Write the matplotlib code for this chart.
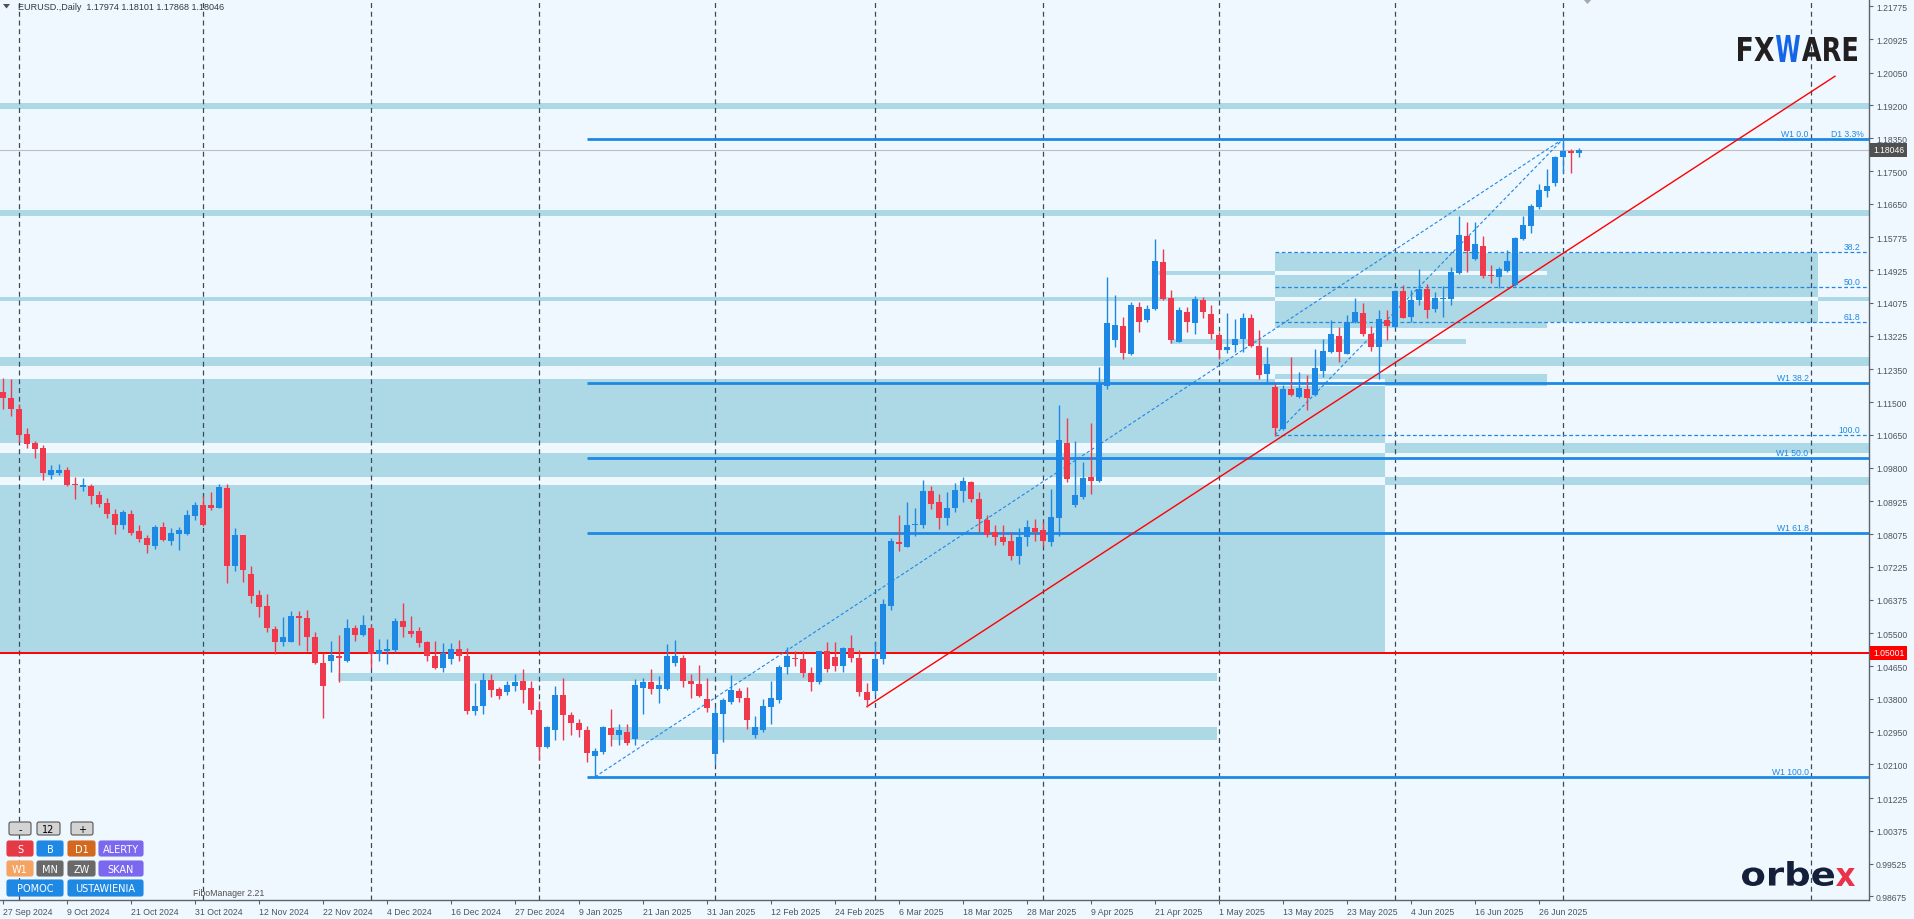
import matplotlib
matplotlib.use("Agg")
import matplotlib.pyplot as plt
from matplotlib.patches import Rectangle, FancyBboxPatch, PathPatch, Polygon
from matplotlib.textpath import TextPath
from matplotlib.font_manager import FontProperties
from matplotlib.transforms import Affine2D

plt.rcParams["font.family"] = ["Liberation Sans", "DejaVu Sans"]

BG = "#F0F8FF"
ZONE = "#ADD8E6"
BULL = "#1E88E5"
BEAR = "#EE3A4C"
FIB = "#1E88E5"
TXT = "#4A5560"

# --- daily EURUSD bars, index 0 = 27 Sep 2024 ---
opens = [
    1.1177, 1.1160, 1.1132, 1.1068, 1.1044, 1.1031, 1.0961, 1.0966, 1.0974, 1.0937,
    1.0931, 1.0933, 1.0909, 1.0888, 1.0860, 1.0830, 1.0860, 1.0816, 1.0798, 1.0778,
    1.0826, 1.0791, 1.0809, 1.0808, 1.0854, 1.0883, 1.0882, 1.0876, 1.0927, 1.0726,
    1.0805, 1.0704, 1.0650, 1.0620, 1.0561, 1.0527, 1.0528, 1.0594, 1.0590, 1.0541,
    1.0473, 1.0477, 1.0490, 1.0477, 1.0564, 1.0547, 1.0563, 1.0496, 1.0505, 1.0508,
    1.0581, 1.0555, 1.0555, 1.0527, 1.0492, 1.0460, 1.0483, 1.0509, 1.0492, 1.0349,
    1.0362, 1.0429, 1.0406, 1.0399, 1.0414, 1.0426, 1.0407, 1.0351, 1.0256, 1.0300,
    1.0390, 1.0338, 1.0318, 1.0300, 1.0233, 1.0243, 1.0304, 1.0285, 1.0293, 1.0276,
    1.0408, 1.0425, 1.0406, 1.0406, 1.0473, 1.0485, 1.0427, 1.0418, 1.0380, 1.0237,
    1.0341, 1.0371, 1.0400, 1.0382, 1.0286, 1.0300, 1.0358, 1.0378, 1.0462, 1.0486,
    1.0483, 1.0446, 1.0423, 1.0503, 1.0488, 1.0465, 1.0512, 1.0486, 1.0397, 1.0400,
    1.0484, 1.0620, 1.0788, 1.0775, 1.0830, 1.0831, 1.0919, 1.0890, 1.0850, 1.0875,
    1.0920, 1.0942, 1.0900, 1.0844, 1.0814, 1.0801, 1.0790, 1.0752, 1.0799, 1.0823,
    1.0817, 1.0788, 1.0850, 1.1044, 1.0883, 1.0903, 1.0955, 1.0946, 1.1193, 1.1312,
    1.1349, 1.1275, 1.1398, 1.1362, 1.1392, 1.1513, 1.1420, 1.1307, 1.1383, 1.1356,
    1.1416, 1.1379, 1.1324, 1.1286, 1.1299, 1.1314, 1.1368, 1.1295, 1.1222, 1.1190,
    1.1081, 1.1184, 1.1164, 1.1184, 1.1169, 1.1231, 1.1280, 1.1322, 1.1276, 1.1359,
    1.1382, 1.1327, 1.1292, 1.1364, 1.1344, 1.1439, 1.1372, 1.1414, 1.1444, 1.1392,
    1.1418, 1.1418, 1.1485, 1.1581, 1.1522, 1.1556, 1.1480, 1.1474, 1.1490, 1.1453,
    1.1574, 1.1608, 1.1656, 1.1697, 1.1718, 1.1787, 1.1803, 1.17974,
]
highs = [
    1.1214, 1.1210, 1.1145, 1.1082, 1.1049, 1.1039, 1.0987, 1.0990, 1.0981, 1.0955,
    1.0953, 1.0938, 1.0920, 1.0901, 1.0873, 1.0870, 1.0870, 1.0830, 1.0805, 1.0830,
    1.0838, 1.0823, 1.0827, 1.0870, 1.0892, 1.0907, 1.0916, 1.0937, 1.0937, 1.0824,
    1.0806, 1.0726, 1.0663, 1.0652, 1.0570, 1.0592, 1.0607, 1.0607, 1.0610, 1.0553,
    1.0499, 1.0530, 1.0546, 1.0587, 1.0572, 1.0598, 1.0572, 1.0535, 1.0535, 1.0590,
    1.0629, 1.0594, 1.0566, 1.0531, 1.0529, 1.0524, 1.0524, 1.0533, 1.0511, 1.0421,
    1.0447, 1.0445, 1.0410, 1.0427, 1.0444, 1.0457, 1.0427, 1.0375, 1.0310, 1.0414,
    1.0433, 1.0345, 1.0328, 1.0310, 1.0252, 1.0310, 1.0354, 1.0315, 1.0315, 1.0432,
    1.0433, 1.0457, 1.0440, 1.0522, 1.0533, 1.0495, 1.0444, 1.0468, 1.0434, 1.0358,
    1.0381, 1.0442, 1.0407, 1.0412, 1.0335, 1.0380, 1.0427, 1.0469, 1.0515, 1.0505,
    1.0505, 1.0464, 1.0505, 1.0528, 1.0528, 1.0514, 1.0545, 1.0506, 1.0422, 1.0528,
    1.0638, 1.0797, 1.0856, 1.0890, 1.0875, 1.0948, 1.0932, 1.0912, 1.0916, 1.0940,
    1.0957, 1.0946, 1.0916, 1.0856, 1.0830, 1.0830, 1.0812, 1.0823, 1.0845, 1.0847,
    1.0838, 1.0925, 1.1143, 1.1110, 1.1049, 1.0994, 1.1096, 1.1241, 1.1476, 1.1427,
    1.1370, 1.1411, 1.1411, 1.1401, 1.1574, 1.1548, 1.1441, 1.1396, 1.1396, 1.1425,
    1.1422, 1.1401, 1.1331, 1.1382, 1.1366, 1.1382, 1.1379, 1.1337, 1.1292, 1.1200,
    1.1195, 1.1267, 1.1228, 1.1221, 1.1288, 1.1314, 1.1362, 1.1344, 1.1376, 1.1421,
    1.1408, 1.1349, 1.1388, 1.1388, 1.1440, 1.1454, 1.1440, 1.1496, 1.1457, 1.1435,
    1.1451, 1.1500, 1.1634, 1.1617, 1.1617, 1.1581, 1.1506, 1.1502, 1.1546, 1.1580,
    1.1634, 1.1664, 1.1715, 1.1754, 1.1790, 1.1830, 1.1808, 1.18101,
]
lows = [
    1.1132, 1.1113, 1.1046, 1.1031, 1.1005, 1.0949, 1.0951, 1.0960, 1.0933, 1.0899,
    1.0920, 1.0886, 1.0877, 1.0850, 1.0809, 1.0821, 1.0806, 1.0788, 1.0759, 1.0769,
    1.0791, 1.0780, 1.0767, 1.0805, 1.0843, 1.0828, 1.0870, 1.0875, 1.0681, 1.0711,
    1.0684, 1.0629, 1.0593, 1.0554, 1.0497, 1.0516, 1.0527, 1.0519, 1.0505, 1.0470,
    1.0330, 1.0449, 1.0423, 1.0475, 1.0531, 1.0544, 1.0459, 1.0479, 1.0471, 1.0502,
    1.0540, 1.0541, 1.0514, 1.0479, 1.0458, 1.0451, 1.0471, 1.0477, 1.0341, 1.0337,
    1.0341, 1.0384, 1.0380, 1.0390, 1.0401, 1.0369, 1.0341, 1.0222, 1.0253, 1.0272,
    1.0272, 1.0285, 1.0282, 1.0216, 1.0178, 1.0237, 1.0257, 1.0260, 1.0260, 1.0260,
    1.0341, 1.0393, 1.0369, 1.0404, 1.0466, 1.0412, 1.0381, 1.0384, 1.0345, 1.0210,
    1.0268, 1.0367, 1.0373, 1.0303, 1.0279, 1.0295, 1.0315, 1.0369, 1.0444, 1.0466,
    1.0438, 1.0401, 1.0418, 1.0450, 1.0453, 1.0450, 1.0476, 1.0388, 1.0360, 1.0390,
    1.0470, 1.0610, 1.0765, 1.0773, 1.0804, 1.0823, 1.0873, 1.0821, 1.0830, 1.0864,
    1.0892, 1.0892, 1.0812, 1.0799, 1.0779, 1.0779, 1.0740, 1.0730, 1.0778, 1.0791,
    1.0778, 1.0778, 1.0804, 1.0942, 1.0877, 1.0899, 1.0912, 1.0942, 1.1183, 1.1294,
    1.1262, 1.1273, 1.1331, 1.1357, 1.1390, 1.1414, 1.1303, 1.1305, 1.1333, 1.1327,
    1.1368, 1.1314, 1.1262, 1.1278, 1.1280, 1.1280, 1.1292, 1.1210, 1.1202, 1.1063,
    1.1079, 1.1165, 1.1162, 1.1130, 1.1167, 1.1216, 1.1277, 1.1255, 1.1274, 1.1356,
    1.1323, 1.1284, 1.1209, 1.1312, 1.1343, 1.1368, 1.1357, 1.1402, 1.1369, 1.1385,
    1.1372, 1.1403, 1.1483, 1.1489, 1.1520, 1.1473, 1.1459, 1.1446, 1.1488, 1.1452,
    1.1571, 1.1589, 1.1651, 1.1682, 1.1710, 1.1745, 1.1746, 1.17868,
]
closes = [
    1.1160, 1.1133, 1.1066, 1.1042, 1.1029, 1.0966, 1.0974, 1.0974, 1.0935, 1.0935,
    1.0935, 1.0907, 1.0887, 1.0861, 1.0830, 1.0866, 1.0810, 1.0795, 1.0780, 1.0826,
    1.0792, 1.0811, 1.0819, 1.0856, 1.0884, 1.0831, 1.0876, 1.0930, 1.0725, 1.0805,
    1.0715, 1.0648, 1.0619, 1.0563, 1.0528, 1.0540, 1.0596, 1.0590, 1.0541, 1.0472,
    1.0414, 1.0494, 1.0487, 1.0563, 1.0546, 1.0573, 1.0497, 1.0507, 1.0509, 1.0581,
    1.0567, 1.0549, 1.0525, 1.0490, 1.0460, 1.0498, 1.0509, 1.0490, 1.0349, 1.0362,
    1.0429, 1.0403, 1.0388, 1.0416, 1.0423, 1.0404, 1.0352, 1.0256, 1.0306, 1.0390,
    1.0338, 1.0317, 1.0298, 1.0240, 1.0246, 1.0306, 1.0286, 1.0299, 1.0265, 1.0416,
    1.0425, 1.0406, 1.0416, 1.0492, 1.0492, 1.0427, 1.0418, 1.0388, 1.0356, 1.0343,
    1.0377, 1.0403, 1.0382, 1.0326, 1.0306, 1.0361, 1.0382, 1.0464, 1.0492, 1.0483,
    1.0446, 1.0423, 1.0503, 1.0458, 1.0465, 1.0512, 1.0486, 1.0397, 1.0376, 1.0484,
    1.0626, 1.0791, 1.0782, 1.0830, 1.0834, 1.0919, 1.0886, 1.0850, 1.0875, 1.0922,
    1.0945, 1.0900, 1.0847, 1.0805, 1.0799, 1.0788, 1.0752, 1.0799, 1.0825, 1.0814,
    1.0791, 1.0851, 1.1052, 1.0951, 1.0908, 1.0953, 1.0946, 1.1200, 1.1356, 1.1350,
    1.1278, 1.1401, 1.1359, 1.1392, 1.1517, 1.1418, 1.1312, 1.1389, 1.1359, 1.1418,
    1.1383, 1.1327, 1.1286, 1.1294, 1.1314, 1.1368, 1.1297, 1.1221, 1.1249, 1.1084,
    1.1184, 1.1169, 1.1188, 1.1162, 1.1239, 1.1283, 1.1327, 1.1280, 1.1357, 1.1385,
    1.1327, 1.1292, 1.1366, 1.1347, 1.1438, 1.1369, 1.1416, 1.1444, 1.1390, 1.1421,
    1.1421, 1.1487, 1.1584, 1.1542, 1.1561, 1.1478, 1.1477, 1.1496, 1.1517, 1.1576,
    1.1610, 1.1658, 1.1701, 1.1712, 1.1787, 1.1803, 1.1797, 1.18046,
]

date_labels = [
    "27 Sep 2024", "9 Oct 2024", "21 Oct 2024", "31 Oct 2024", "12 Nov 2024",
    "22 Nov 2024", "4 Dec 2024", "16 Dec 2024", "27 Dec 2024", "9 Jan 2025",
    "21 Jan 2025", "31 Jan 2025", "12 Feb 2025", "24 Feb 2025", "6 Mar 2025",
    "18 Mar 2025", "28 Mar 2025", "9 Apr 2025", "21 Apr 2025", "1 May 2025",
    "13 May 2025", "23 May 2025", "4 Jun 2025", "16 Jun 2025", "26 Jun 2025",
]
date_bars = list(range(0, 193, 8))
price_ticks = [
    1.21775, 1.20925, 1.20050, 1.19200, 1.18350, 1.17500, 1.16650, 1.15775,
    1.14925, 1.14075, 1.13225, 1.12350, 1.11500, 1.10650, 1.09800, 1.08925,
    1.08075, 1.07225, 1.06375, 1.05500, 1.04650, 1.03800, 1.02950, 1.02100,
    1.01225, 1.00375, 0.99525, 0.98675,
]
month_bars = [2, 25, 46, 67, 89, 109, 130, 152, 174, 195, 226]

# zones: (bar from, bar to, price low, price high); overlaps are drawn XOR like MT4
zones = [
    (-5, 172.75, 1.0499, 1.1211),
    (-5, 240, 1.1911, 1.1927),
    (-5, 240, 1.1634, 1.1649),
    (-5, 240, 1.1413, 1.1423),
    (-5, 240, 1.1245, 1.1267),
    (-5, 240, 1.1018, 1.1044),
    (-5, 240, 1.0935, 1.0956),
    (41.9, 151.75, 1.0426, 1.0446),
    (76, 151.75, 1.0272, 1.0307),
    (144.25, 193, 1.1480, 1.1490),
    (159, 193, 1.1343, 1.1357),
    (145.9, 182.9, 1.1301, 1.1315),
    (159, 193, 1.1193, 1.1223),
    (159, 226.9, 1.1357, 1.1538),
]

w1_start = 73
w1_levels = [1.1833, 1.12006, 1.10053, 1.08099, 1.01775]
w1_names = ["W1 0.0", "W1 38.2", "W1 50.0", "W1 61.8", "W1 100.0"]
d1_start = 159
d1_levels = [1.15396, 1.1449, 1.13584, 1.1065]
d1_names = ["38.2", "50.0", "61.8", "100.0"]
fib_rays = [((74, 1.01775), (195, 1.1833)), ((159, 1.1065), (195, 1.1833))]
trend_red = ((108, 1.0360), (229, 1.1996))
level_red = 1.05001
last_price = 1.18046

W, H = 1914, 920
fig = plt.figure(figsize=(W / 100, H / 100), dpi=100, facecolor=BG)
ax = fig.add_axes([0, (H - 901) / H, 1869 / W, 901 / H], facecolor=BG)
ax.set_xlim(-0.375, 233.25)
ax.set_ylim(0.98580, 1.21964)

# XOR zone painting on the grid of all zone edges
xs = sorted({z[0] for z in zones} | {z[1] for z in zones})
ys = sorted({z[2] for z in zones} | {z[3] for z in zones})
for j in range(len(ys) - 1):
    cy = (ys[j] + ys[j + 1]) / 2
    run = None
    for i in range(len(xs) - 1):
        cx = (xs[i] + xs[i + 1]) / 2
        n = sum(z[0] <= cx <= z[1] and z[2] <= cy <= z[3] for z in zones)
        if n % 2 and run is None:
            run = xs[i]
        if (not n % 2 or i == len(xs) - 2) and run is not None:
            end = xs[i + 1] if n % 2 else xs[i]
            ax.add_patch(Rectangle((run, ys[j]), end - run, ys[j + 1] - ys[j],
                                   fc=ZONE, lw=0, antialiased=False, zorder=1))
            run = None

for b in month_bars:
    ax.axvline(b, color="#3A4A5A", lw=0.9, ls=(0, (4, 3)), zorder=2)

ax.axhline(last_price, color="#BDBDBD", lw=0.8, zorder=2)
ax.axhline(level_red, color="#FF0000", lw=1.4, zorder=3)

for lvl in w1_levels:
    ax.hlines(lvl, w1_start, 240, color=FIB, lw=2, zorder=3)
for lvl in d1_levels:
    ax.hlines(lvl, d1_start, 240, color=FIB, lw=0.9, ls=(0, (3, 2)), zorder=3)
for (x0, y0), (x1, y1) in fib_rays:
    ax.plot([x0, x1], [y0, y1], color=FIB, lw=0.8, ls=(0, (3, 2)), zorder=3)
ax.plot([trend_red[0][0], trend_red[1][0]], [trend_red[0][1], trend_red[1][1]],
        color="#FF0000", lw=1, zorder=3)

# candles
n = len(closes)
bars = list(range(n))
for i in bars:
    up = closes[i] >= opens[i]
    col = BULL if up else BEAR
    ax.vlines(i, lows[i], highs[i], color=col, lw=1, zorder=4)
    body = max(abs(closes[i] - opens[i]), 0.00025)
    ax.bar(i, body, bottom=min(opens[i], closes[i]), width=0.65, color=col,
           lw=0, zorder=5)

# fibo labels
lab = dict(fontsize=6.2, color=FIB, ha="right", va="bottom", zorder=6)
for lvl, name in zip(w1_levels, w1_names):
    ax.text(225.7, lvl + 0.0002, name, **lab)
for lvl, name in zip(d1_levels, d1_names):
    ax.text(232.2, lvl + 0.0002, name, **lab)
ax.text(232.6, w1_levels[0] + 0.0002, "D1 3.3%", **lab)

# axes styling
for s in ["top", "left"]:
    ax.spines[s].set_visible(False)
for s in ["right", "bottom"]:
    ax.spines[s].set_color("#5A6470")
    ax.spines[s].set_linewidth(1)
ax.yaxis.tick_right()
ax.set_yticks(price_ticks)
ax.set_yticklabels([f"{p:.5f}" for p in price_ticks])
ax.set_xticks(date_bars)
ax.set_xticklabels(date_labels)
ax.tick_params(axis="y", length=3, width=0.8, color="#5A6470", pad=2,
               labelsize=6.2, labelcolor=TXT)
ax.tick_params(axis="x", length=3, width=0.8, color="#5A6470", pad=2,
               labelsize=6.3, labelcolor=TXT)
for t in ax.get_xticklabels():
    t.set_ha("left")

box = dict(boxstyle="square,pad=0.3", ec="none")
ax.annotate(f"{last_price:.5f}", xy=(1, last_price), xycoords=("axes fraction", "data"),
            xytext=(4, 0), textcoords="offset pixels", ha="left", va="center",
            fontsize=6.2, color="white", bbox=dict(box, fc="#505050"),
            annotation_clip=False, zorder=10)
ax.annotate(f"{level_red:.5f}", xy=(1, level_red), xycoords=("axes fraction", "data"),
            xytext=(4, 0), textcoords="offset pixels", ha="left", va="center",
            fontsize=6.2, color="white", bbox=dict(box, fc="#FF0000"),
            annotation_clip=False, zorder=10)

# overlay in pixel coordinates for terminal widgets
ov = fig.add_axes([0, 0, 1, 1], facecolor="none")
ov.set_xlim(0, W)
ov.set_ylim(H, 0)
ov.axis("off")

ov.add_patch(Polygon([(3, 5), (10, 5), (6.5, 9.5)], color="#505050", lw=0))
ov.add_patch(Polygon([(1583, 0), (1592, 0), (1587.5, 5)], color="#A8A8A8", lw=0))
ov.text(18, 8, "EURUSD.,Daily  1.17974 1.18101 1.17868 1.18046", fontsize=6.5,
        color="#2F3A45", va="center", ha="left")
ov.text(193, 894, "FiboManager 2.21", fontsize=6.3, color="#505050",
        va="center", ha="left")


def fit_text(s, box, color, weight="bold", family="DejaVu Sans"):
    x0, y0, x1, y1 = box
    tp = TextPath((0, 0), s, size=100, prop=FontProperties(family=family, weight=weight))
    bb = tp.get_extents()
    tr = (Affine2D().translate(-bb.x0, -bb.y0)
          .scale((x1 - x0) / bb.width, -(y1 - y0) / bb.height).translate(x0, y1))
    ov.add_patch(PathPatch(tr.transform_path(tp), fc=color, lw=0))


fit_text("FX", (1738, 38, 1774, 62), "#231F20")
fit_text("W", (1776, 36, 1800, 63), "#1565E8")
fit_text("ARE", (1802, 38, 1857, 62), "#231F20")
fit_text("orbe", (1742, 862, 1834, 887), "#14203A")
fit_text("x", (1836, 869, 1855, 887), "#E8334A")

buttons = [
    ("-", 9, 823, 31, 836, "#D3D3D3", "black"),
    ("12", 37, 823, 60, 836, "#D3D3D3", "black"),
    ("+", 71, 823, 93, 836, "#D3D3D3", "black"),
    ("S", 7, 842, 33, 857, "#E53945", "white"),
    ("B", 37, 842, 63, 857, "#1E88E5", "white"),
    ("D1", 68, 842, 95, 857, "#D2691E", "white"),
    ("ALERTY", 99, 842, 143, 857, "#7B68EE", "white"),
    ("W1", 7, 862, 33, 877, "#F4A460", "white"),
    ("MN", 37, 862, 63, 877, "#696969", "white"),
    ("ZW", 68, 862, 95, 877, "#696969", "white"),
    ("SKAN", 99, 862, 143, 877, "#7B68EE", "white"),
    ("POMOC", 7, 881, 63, 897, "#1E88E5", "white"),
    ("USTAWIENIA", 68, 881, 143, 897, "#1E88E5", "white"),
]
for label, x0, y0, x1, y1, fc, tc in buttons:
    grey = fc == "#D3D3D3"
    ov.add_patch(FancyBboxPatch((x0, y0), x1 - x0, y1 - y0,
                                boxstyle="round,pad=0,rounding_size=2", fc=fc,
                                ec="#555555" if grey else fc, lw=0.8))
    ov.text((x0 + x1) / 2, (y0 + y1) / 2 + 0.5, label, fontsize=7, color=tc,
            ha="center", va="center", family="DejaVu Sans")

fig.savefig("out.png", dpi=100, facecolor=BG)
